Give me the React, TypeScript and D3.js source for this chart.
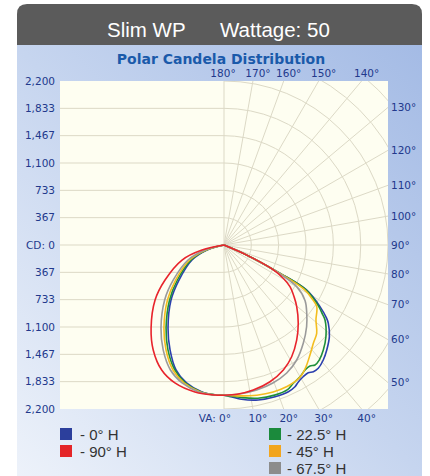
import React from 'react';
import * as d3 from 'd3';

const W = 430;
const H = 476;

// ---- data ----
const headerTitle = 'Slim WP';
const headerWattage = 'Wattage: 50';
const chartTitle = 'Polar Candela Distribution';
const cdMax = 2200;
const cdTicks = [2200, 1833, 1467, 1100, 733, 367, 0];
const sideAngles = [50, 60, 70, 80, 90, 100, 110, 120, 130];
const topAngles = [140, 150, 160, 170, 180];
const bottomAngles = [0, 10, 20, 30, 40];
const radialAngles = [0, 10, 20, 30, 40, 50, 60, 70, 80, 90, 100, 110, 120, 130, 140, 150, 160, 170, 180];
const arcSteps = [1, 2, 3, 4, 5, 6, 7, 8];

// [vertical angle (deg from nadir), candela]
const blueRight = [[68, 0], [66.2, 330], [63.2, 840], [61.4, 1260], [57.3, 1530], [54.5, 1690], [53.1, 1750], [49, 1873], [44.4, 1970], [40.8, 2038], [37.4, 2082], [35.2, 2080], [33.4, 2053], [31, 2062], [28.5, 2090], [26.6, 2126], [23.7, 2149], [18.6, 2147], [12.5, 2129], [6.5, 2083], [0, 2015]];
const blueLeft = [[2.7, 2015], [8.5, 1994], [15.2, 1918], [21, 1796], [27.2, 1583], [34, 1343], [43.9, 1025], [52.1, 765], [64.9, 474], [73.6, 238], [78, 0]];
const greenRight = [[68, 0], [66.2, 330], [63.2, 835], [61.4, 1245], [57.3, 1500], [55, 1610], [53.4, 1688], [48, 1840], [43.4, 1939], [39.6, 2004], [37.2, 2020], [35.4, 1991], [33, 1998], [30, 2040], [26.6, 2075], [23.7, 2120], [18.6, 2125], [12.5, 2105], [6.5, 2060], [0, 2015]];
const greenLeft = [[2.7, 2015], [8.9, 1996], [15.7, 1922], [21.5, 1802], [28.1, 1596], [34.9, 1358], [44.7, 1038], [53.1, 782], [65.6, 486], [74.1, 245], [78, 0]];
const yellowRight = [[68, 0], [66.2, 325], [63.2, 810], [61, 1230], [58.5, 1390], [56.4, 1494], [50.8, 1592], [46.4, 1717], [42.3, 1781], [38, 1873], [34, 1968], [30.9, 2031], [27.4, 2066], [24, 2078], [18.5, 2080], [12.3, 2062], [6, 2035], [0, 2015]];
const yellowLeft = [[2.8, 2015], [9.2, 1997], [16.2, 1927], [22.2, 1811], [28.9, 1609], [35.9, 1374], [45.8, 1058], [54.1, 801], [66.4, 503], [74.5, 251], [78.5, 0]];
const grayRight = [[68, 0], [66.2, 320], [63.2, 760], [60.2, 1124], [55.5, 1320], [50.6, 1436], [45.3, 1559], [39, 1691], [32.3, 1825], [26.1, 1912], [19.5, 1964], [12.7, 1994], [6, 2010], [0, 2015]];
const grayLeft = [[2.9, 2015], [9.7, 2000], [16.9, 1934], [23.2, 1824], [30.1, 1627], [37.2, 1398], [47.2, 1085], [55.4, 826], [67.4, 523], [75.3, 263], [79, 0]];
const redRight = [[68, 0], [66.2, 320], [63.5, 720], [60.5, 920], [57.7, 1047], [53.5, 1170], [49.7, 1279], [43.5, 1447], [37.4, 1605], [31.2, 1752], [25.4, 1856], [18.6, 1935], [11.4, 1985], [5, 2010], [0, 2015]];
const redLeft = [[3.4, 2016], [11.2, 2009], [19.6, 1964], [26.5, 1874], [34, 1698], [41.3, 1482], [51.4, 1183], [59.3, 920], [70.3, 598], [77.2, 303], [80, 0]];

const seriesNames = ['0° H', '22.5° H', '45° H', '67.5° H', '90° H'];
const seriesRight = [blueRight, greenRight, yellowRight, grayRight, redRight];
const seriesLeft = [blueLeft, greenLeft, yellowLeft, grayLeft, redLeft];
const lineColors = ['#2b3fae', '#1f8f3a', '#f3bd1f', '#9a9a9a', '#e8242c'];
const legendColors = ['#2c3f9c', '#1b8a3c', '#f2a51e', '#8c8c8c', '#e42528'];

// ---- layout ----
const px0 = 60, py0 = 81, pSize = 328;
const cx = px0 + pSize / 2;
const cy = py0 + pSize / 2;
const R = pSize / 2;
const deg = Math.PI / 180;

const rScale = d3.scaleLinear().domain([0, cdMax]).range([0, R]);
const fmt = d3.format(',');

function rayHit(theta: number) {
  const dx = Math.sin(theta * deg);
  const dy = Math.cos(theta * deg);
  let t = Infinity;
  if (dx > 1e-9) t = Math.min(t, (px0 + pSize - cx) / dx);
  if (dy > 1e-9) t = Math.min(t, (py0 + pSize - cy) / dy);
  if (dy < -1e-9) t = Math.min(t, (py0 - cy) / dy);
  return [cx + dx * t, cy + dy * t];
}

const radial = d3
  .lineRadial<number[]>()
  .angle((d) => d[0])
  .radius((d) => rScale(d[1]))
  .curve(d3.curveCatmullRom.alpha(0.5));

function curvePath(right: number[][], left: number[][]) {
  const pts = [
    ...right.map(([t, c]) => [Math.PI - t * deg, c]),
    ...left.map(([t, c]) => [Math.PI + t * deg, c]),
  ];
  return radial(pts) || '';
}

function arcPath(r: number) {
  const p = d3.path();
  p.moveTo(cx, cy - r);
  p.arc(cx, cy, r, -Math.PI / 2, Math.PI / 2, false);
  return p.toString();
}

const labelFont = '"DejaVu Sans", Verdana, sans-serif';
const labelColor = '#22398c';
const gridColor = '#dcd9c6';

export default function App() {
  const unit = rScale(367 * 1) ; // not used directly
  void unit;
  const step = R / 6;
  const drawOrder = [0, 1, 2, 3, 4];
  return (
    <svg width={W} height={H} style={{ position: 'absolute', left: 0, top: 0, display: 'block' }}>
      <defs>
        <linearGradient id="panelGrad" x1="1" y1="0" x2="0" y2="1">
          <stop offset="0" stopColor="#a4bbe5" />
          <stop offset="0.5" stopColor="#c6d5ef" />
          <stop offset="1" stopColor="#edf2fa" />
        </linearGradient>
        <clipPath id="plotClip">
          <rect x={px0} y={py0} width={pSize} height={pSize} />
        </clipPath>
      </defs>
      <rect x={0} y={0} width={W} height={H} fill="#ffffff" />
      {/* header */}
      <path
        d={`M17,45 L17,14 Q17,4 27,4 L412,4 Q422,4 422,14 L422,45 Z`}
        fill="#5b5b5b"
      />
      <text x={107} y={37} fill="#ffffff" fontFamily='"Liberation Sans", Arial, sans-serif' fontSize={20.5}>
        {headerTitle}
      </text>
      <text x={220} y={37} fill="#ffffff" fontFamily='"Liberation Sans", Arial, sans-serif' fontSize={20.5}>
        {headerWattage}
      </text>
      {/* panel */}
      <rect x={17} y={45} width={405} height={H - 45} fill="url(#panelGrad)" />
      <text x={221} y={64} textAnchor="middle" fill="#1a5aaa" fontFamily={labelFont} fontWeight="bold" fontSize={14}>
        {chartTitle}
      </text>
      {/* plot background */}
      <rect x={px0} y={py0} width={pSize} height={pSize} fill="#fefef1" />
      <g clipPath="url(#plotClip)" fill="none" stroke={gridColor} strokeWidth={1}>
        {cdTicks.slice(1).map((v) => (
          <line key={'hu' + v} x1={px0} x2={cx} y1={cy - rScale(v)} y2={cy - rScale(v)} />
        ))}
        {cdTicks.slice(1, -1).map((v) => (
          <line key={'hd' + v} x1={px0} x2={cx} y1={cy + rScale(v)} y2={cy + rScale(v)} />
        ))}
        {arcSteps.map((k) => (
          <path key={'a' + k} d={arcPath(k * step)} />
        ))}
        {radialAngles.map((a) => (
          <line
            key={'r' + a}
            x1={cx}
            y1={cy}
            x2={cx + Math.sin(a * deg) * 400}
            y2={cy + Math.cos(a * deg) * 400}
          />
        ))}
      </g>
      {/* curves */}
      <g transform={`translate(${cx},${cy})`} fill="none" strokeWidth={1.6} strokeLinejoin="round">
        {drawOrder.map((i) => (
          <path key={'c' + i} d={curvePath(seriesRight[i], seriesLeft[i])} stroke={lineColors[i]} />
        ))}
      </g>
      {/* left CD labels */}
      <g fontFamily={labelFont} fontSize={10.5} fill={labelColor} textAnchor="end">
        {cdTicks.map((v) => (
          <text key={'lu' + v} x={55} y={cy - rScale(v)} dy="0.36em">
            {v === 0 ? 'CD: 0' : fmt(v)}
          </text>
        ))}
        {cdTicks.slice(0, -1).map((v) => (
          <text key={'ld' + v} x={55} y={cy + rScale(v)} dy="0.36em">
            {fmt(v)}
          </text>
        ))}
      </g>
      {/* angle labels */}
      <g fontFamily={labelFont} fontSize={10.5} fill={labelColor}>
        {sideAngles.map((a) => (
          <text key={'s' + a} x={391} y={rayHit(a)[1]} dy="0.36em">
            {a}°
          </text>
        ))}
        {topAngles.map((a) => (
          <text key={'t' + a} x={rayHit(a)[0] + (a === 180 ? -1 : 5)} y={77} textAnchor="middle">
            {a}°
          </text>
        ))}
        {bottomAngles.map((a) => (
          <text
            key={'b' + a}
            x={a === 0 ? cx + 7 : rayHit(a)[0] + 5}
            y={422}
            textAnchor={a === 0 ? 'end' : 'middle'}
          >
            {a === 0 ? 'VA: 0°' : a + '°'}
          </text>
        ))}
      </g>
      {/* legend */}
      <g fontFamily='"Liberation Sans", Arial, sans-serif' fontSize={15} fill="#333333">
        {[0, 4].map((i, row) => (
          <g key={'lg' + i}>
            <rect x={60} y={428 + row * 17} width={12} height={12} fill={legendColors[i]} />
            <text x={80} y={439.5 + row * 17}>{'- ' + seriesNames[i]}</text>
          </g>
        ))}
        {[1, 2, 3].map((i, row) => (
          <g key={'lg' + i}>
            <rect x={269} y={428 + row * 17} width={12} height={12} fill={legendColors[i]} />
            <text x={287} y={439.5 + row * 17}>{'- ' + seriesNames[i]}</text>
          </g>
        ))}
      </g>
    </svg>
  );
}
